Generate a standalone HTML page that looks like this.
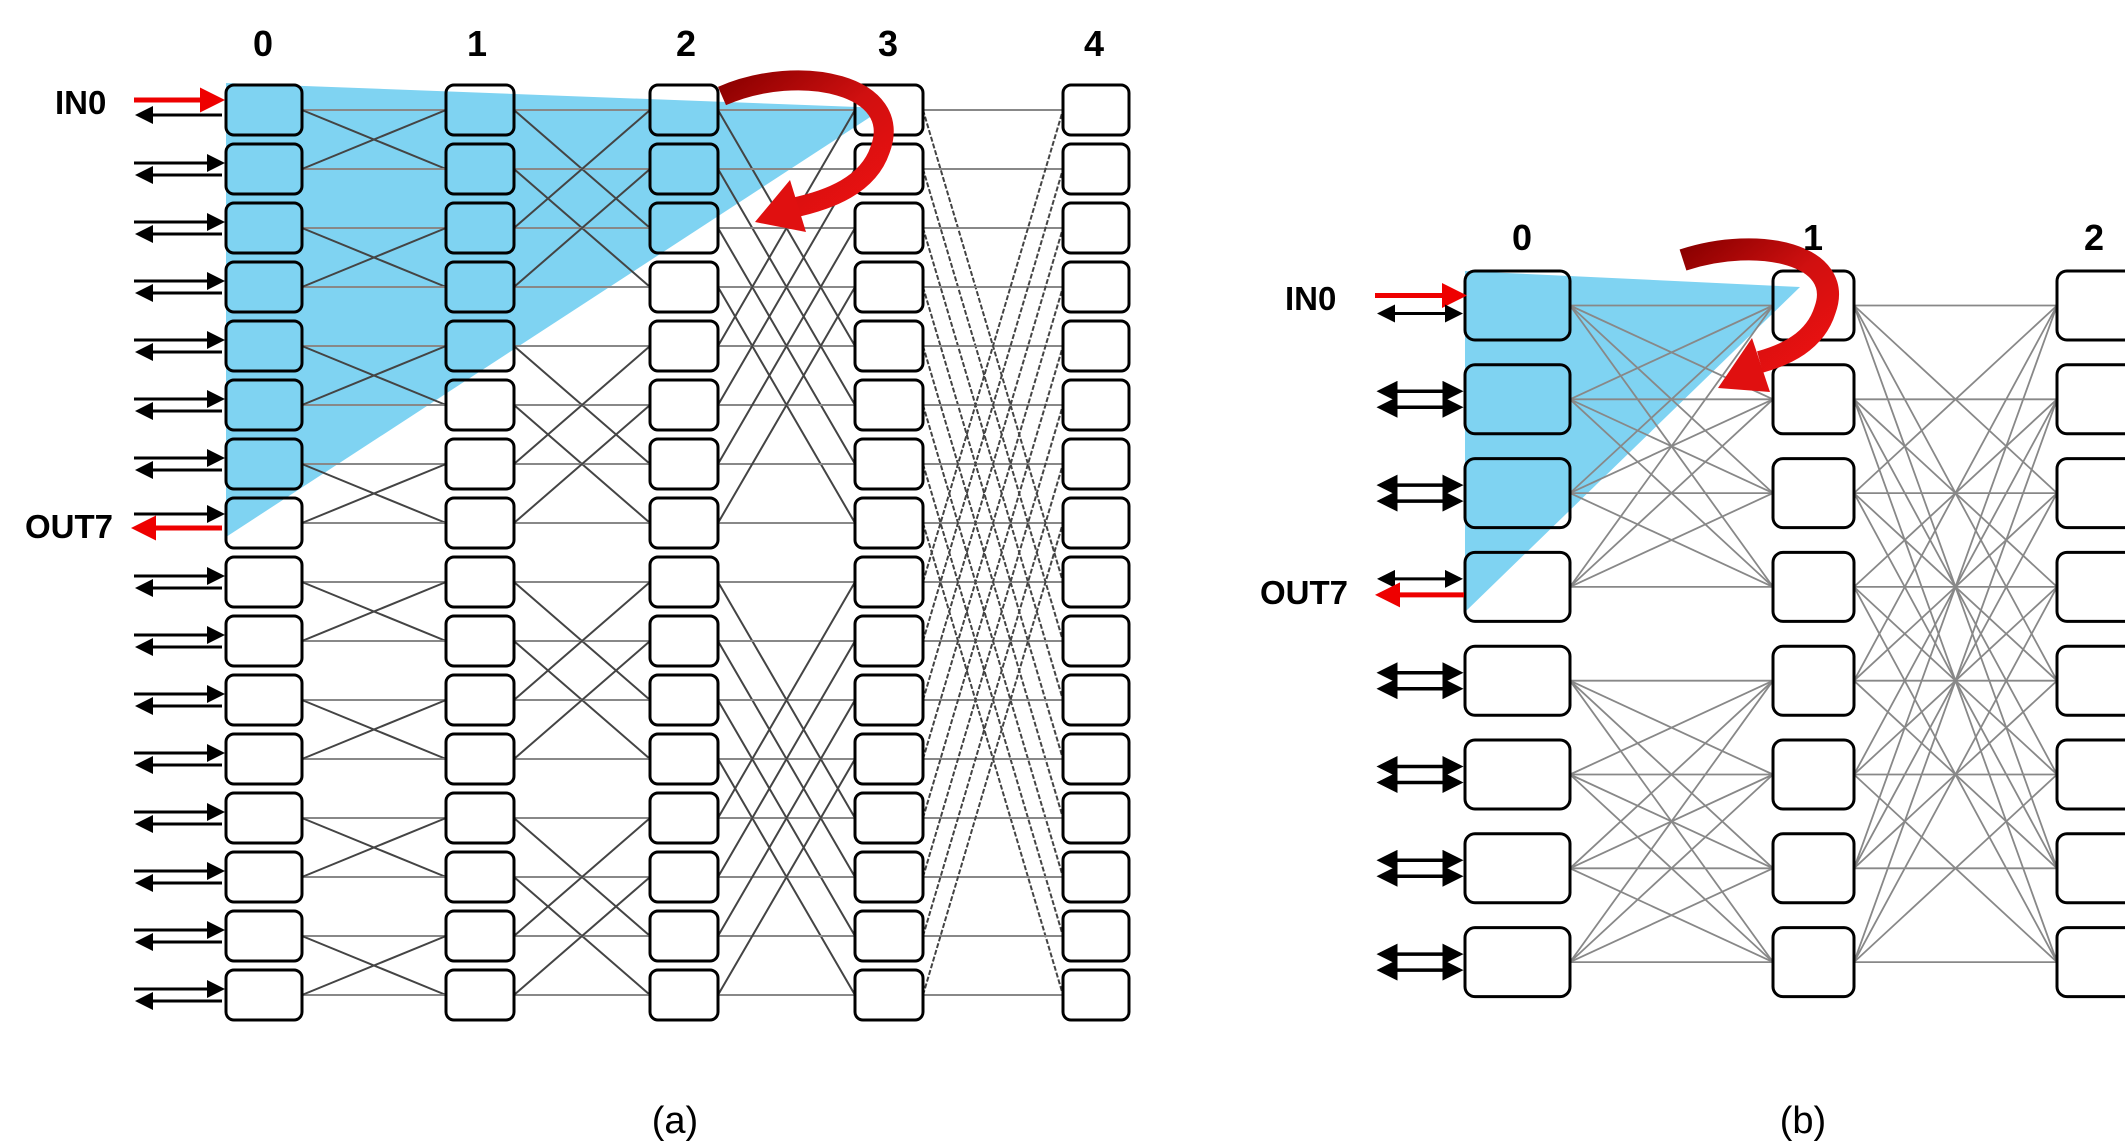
<!DOCTYPE html>
<html><head><meta charset="utf-8">
<style>
html,body{margin:0;padding:0;background:#fff;}
svg{display:block;}
text{font-family:"Liberation Sans",sans-serif;font-weight:bold;fill:#000;}
</style></head>
<body>
<svg id="s" width="2125" height="1148" viewBox="0 0 2125 1148" xmlns="http://www.w3.org/2000/svg">
<defs>
<marker id="ab" markerWidth="6" markerHeight="6" refX="5" refY="3" orient="auto" markerUnits="strokeWidth"><path d="M0,0 L6,3 L0,6 z" fill="#000"/></marker>
<marker id="ar" markerWidth="5" markerHeight="5" refX="4" refY="2.5" orient="auto" markerUnits="strokeWidth"><path d="M0,0 L5,2.5 L0,5 z" fill="#e00"/></marker>
<marker id="abs" markerWidth="6" markerHeight="6" refX="1" refY="3" orient="auto" markerUnits="strokeWidth"><path d="M6,0 L0,3 L6,6 z" fill="#000"/></marker>
<linearGradient id="rg" x1="0" y1="0" x2="1" y2="1"><stop offset="0" stop-color="#8b0000"/><stop offset="0.5" stop-color="#d01010"/><stop offset="1" stop-color="#ee1111"/></linearGradient>
</defs>
<g id="fills"></g>
<polygon points="226,83 884,108 226,537" fill="#7fd3f2"/>
<polygon points="1465,271 1800,287 1465,612" fill="#7fd3f2"/>
<g id="lines"></g>
<g id="boxes"></g>
<g id="arrows"></g>
<!-- curved arrows -->
<path d="M722,96 C800,62 905,85 880,150 C868,185 830,200 792,208" fill="none" stroke="url(#rg)" stroke-width="20"/>
<polygon points="755,222 790,180 806,232" fill="#e01010"/>
<path d="M1683,260 C1760,235 1845,255 1825,310 C1815,342 1785,355 1760,362" fill="none" stroke="url(#rg)" stroke-width="22"/>
<polygon points="1718,388 1752,338 1770,392" fill="#e01010"/>
<!-- labels -->
<text x="263" y="56" font-size="36" text-anchor="middle">0</text>
<text x="477" y="56" font-size="36" text-anchor="middle">1</text>
<text x="686" y="56" font-size="36" text-anchor="middle">2</text>
<text x="888" y="56" font-size="36" text-anchor="middle">3</text>
<text x="1094" y="56" font-size="36" text-anchor="middle">4</text>
<text x="1522" y="250" font-size="36" text-anchor="middle">0</text>
<text x="1813" y="250" font-size="36" text-anchor="middle">1</text>
<text x="2094" y="250" font-size="36" text-anchor="middle">2</text>
<text x="55" y="114" font-size="33">IN0</text>
<text x="25" y="538" font-size="33">OUT7</text>
<text x="1285" y="310" font-size="33">IN0</text>
<text x="1260" y="604" font-size="33">OUT7</text>
<text x="675" y="1133" font-size="38" font-weight="normal" style="font-weight:normal" text-anchor="middle">(a)</text>
<text x="1803" y="1133" font-size="38" style="font-weight:normal" text-anchor="middle">(b)</text>
</svg>
<script>
var NS="http://www.w3.org/2000/svg";
function el(p,t,a){var e=document.createElementNS(NS,t);for(var k in a)e.setAttribute(k,a[k]);document.getElementById(p).appendChild(e);return e;}
// (a)
var ax=[226,446,650,855,1063], aw=[76,68,68,68,66];
function ay(i){return 85+59*i;}
function ac(i){return 110+59*i;}
for(var k=0;k<4;k++){var m=1<<k;for(var i=0;i<16;i++){var js=[i,i^m];for(var q=0;q<2;q++){var j=js[q];
 var a={x1:ax[k]+aw[k],y1:ac(i),x2:ax[k+1],y2:ac(j),stroke:(q==0?"#888":"#444"),"stroke-width":(q==0?2:2)};
 if(k==3&&q==1)a["stroke-dasharray"]="5 2";
 el("lines","line",a);}}}
for(var k=0;k<5;k++)for(var i=0;i<16;i++){
 el("fills","rect",{x:ax[k],y:ay(i),width:aw[k],height:50,rx:8,fill:"#fff"});
 el("boxes","rect",{x:ax[k],y:ay(i),width:aw[k],height:50,rx:8,fill:"none",stroke:"#000","stroke-width":3});}
for(var i=0;i<16;i++){var c=ac(i);
 if(i==0){el("arrows","line",{x1:134,y1:c-10,x2:220,y2:c-10,stroke:"#e00","stroke-width":5,"marker-end":"url(#ar)"});
  el("arrows","line",{x1:222,y1:c+5,x2:138,y2:c+5,stroke:"#000","stroke-width":3,"marker-end":"url(#ab)"});}
 else if(i==7){el("arrows","line",{x1:134,y1:c-9,x2:222,y2:c-9,stroke:"#000","stroke-width":3,"marker-end":"url(#ab)"});
  el("arrows","line",{x1:222,y1:c+5,x2:136,y2:c+5,stroke:"#e00","stroke-width":5,"marker-end":"url(#ar)"});}
 else{el("arrows","line",{x1:134,y1:c-6,x2:222,y2:c-6,stroke:"#000","stroke-width":3,"marker-end":"url(#ab)"});
  el("arrows","line",{x1:222,y1:c+6,x2:138,y2:c+6,stroke:"#000","stroke-width":3,"marker-end":"url(#ab)"});}}
// (b)
var bx=[1465,1773,2057], bw=[105,81,100];
function by(i){return 271+93.8*i;}
function bc(i){return 305.5+93.8*i;}
for(var i=0;i<8;i++){var g=i<4?0:4;for(var j=g;j<g+4;j++)
 el("lines","line",{x1:bx[0]+bw[0],y1:bc(i),x2:bx[1],y2:bc(j),stroke:"#888","stroke-width":1.8});}
for(var i=0;i<8;i++)for(var j=0;j<8;j++){if((i%2)!=(j%2))continue;
 el("lines","line",{x1:bx[1]+bw[1],y1:bc(i),x2:bx[2],y2:bc(j),stroke:"#888","stroke-width":1.8});}
for(var k=0;k<3;k++)for(var i=0;i<8;i++){
 el("fills","rect",{x:bx[k],y:by(i),width:bw[k],height:69,rx:10,fill:"#fff"});
 el("boxes","rect",{x:bx[k],y:by(i),width:bw[k],height:69,rx:10,fill:"none",stroke:"#000","stroke-width":3});}
for(var i=0;i<8;i++){var c=bc(i);
 if(i==0){el("arrows","line",{x1:1375,y1:c-10,x2:1462,y2:c-10,stroke:"#e00","stroke-width":5,"marker-end":"url(#ar)"});
  el("arrows","line",{x1:1380,y1:c+8,x2:1460,y2:c+8,stroke:"#000","stroke-width":3,"marker-end":"url(#ab)","marker-start":"url(#abs)"});}
 else if(i==3){el("arrows","line",{x1:1380,y1:c-8,x2:1460,y2:c-8,stroke:"#000","stroke-width":3,"marker-end":"url(#ab)","marker-start":"url(#abs)"});
  el("arrows","line",{x1:1464,y1:c+8,x2:1380,y2:c+8,stroke:"#e00","stroke-width":5,"marker-end":"url(#ar)"});}
 else{for(var d=-8;d<=8;d+=16)el("arrows","line",{x1:1380,y1:c+d,x2:1460,y2:c+d,stroke:"#000","stroke-width":3.5,"marker-end":"url(#ab)","marker-start":"url(#abs)"});}}
</script>
</body></html>
